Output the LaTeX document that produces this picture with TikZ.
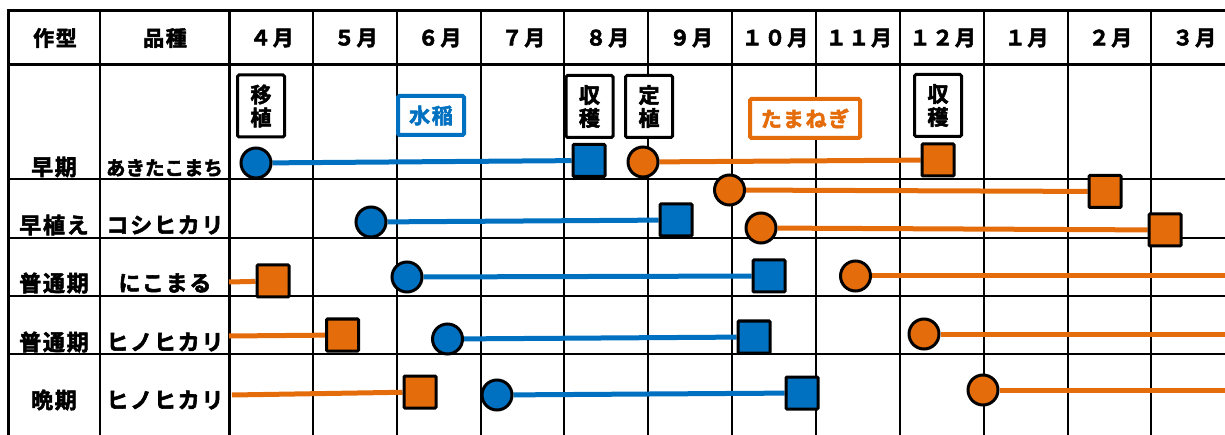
\documentclass[tikz,border=0pt]{standalone}
\usepackage{fontspec}
\newfontfamily\jp{Noto Sans CJK JP Bold}[LetterSpace=8,FakeBold=2.5]
\newfontfamily\jpn{Noto Sans CJK JP Bold}[FakeBold=2.5]
\definecolor{rblue}{HTML}{0070C0}
\definecolor{onion}{HTML}{E46C0A}
\pgfdeclarelayer{bg}
\pgfdeclarelayer{mid}
\pgfsetlayers{bg,mid,main}
\begin{document}
\begin{tikzpicture}[x=1pt,y=-1pt,
 lbl/.style={font=\jp\fontsize{22}{22}\selectfont, inner sep=0pt},
 hdr/.style={font=\jp\fontsize{21}{21}\selectfont, inner sep=0pt},
 circ/.style={circle, draw=black, line width=3pt, minimum size=30pt, inner sep=0pt},
 sq/.style={rectangle, draw=black, line width=3pt, minimum size=32pt, inner sep=0pt, rounded corners=1pt},
 bc/.style={circ, fill=rblue}, oc/.style={circ, fill=onion},
 bs/.style={sq, fill=rblue}, os/.style={sq, fill=onion},
 bline/.style={draw=rblue, line width=5pt},
 oline/.style={draw=onion, line width=5pt},
 tag/.style={draw=black, fill=white, line width=3pt, rounded corners=1.5pt, minimum width=47pt, minimum height=62pt, inner sep=0pt, align=center, font=\jp\fontsize{21}{23}\selectfont},
 ctag/.style={fill=white, line width=4pt, rounded corners=1.5pt, inner sep=0pt, minimum height=39pt, font=\jp\fontsize{21}{21}\selectfont},
 thick line/.style={line width=3pt},
 thin line/.style={line width=2pt}
]
\useasboundingbox (0,0) rectangle (1225,435);
% grid
\begin{pgfonlayer}{bg}
\foreach \i in {1,...,11} \draw[thin line] ({229+83.85*\i},11) -- ({229+83.85*\i},436);
\draw[thin line] (100,11) -- (100,436);
\foreach \y in {179,238,296,354} \draw[thin line] (8,\y) -- (1226,\y);
\draw[thick line] (6.5,11) -- (1226,11);
\draw[thick line] (8,65) -- (1226,65);
\draw[thick line] (8,11) -- (8,436);
\draw[thick line] (229,11) -- (229,436);
\end{pgfonlayer}
% header
\node[hdr] (h1) at (55,38) {作型};
\node[hdr] (h2) at (165,38) {品種};
\foreach \m [count=\i from 0] in {４月,５月,６月,７月,８月,９月,１０月,１１月,１２月,１月,２月,３月}
  \node[hdr] (m\i) at ({230+83.85*(\i+0.5)},38) {\m};
% row labels
\node[lbl] (r1a) at (54,167) {早期};
\node[lbl,font=\jpn\fontsize{19.5}{19.5}\selectfont] (r1b) at (164.5,168) {あきたこまち};
\node[lbl] (r2a) at (54,225) {早植え};
\node[lbl] (r2b) at (165,225) {コシヒカリ};
\node[lbl] (r3a) at (54,283) {普通期};
\node[lbl] (r3b) at (165,283) {にこまる};
\node[lbl] (r4a) at (54,342) {普通期};
\node[lbl] (r4b) at (165,342) {ヒノヒカリ};
\node[lbl] (r5a) at (54,400) {晩期};
\node[lbl] (r5b) at (165,400) {ヒノヒカリ};
% tags
\node[tag] (t1) at (261,106) {移\\植};
\node[tag] (t2) at (589.5,106.5) {収\\穫};
\node[tag] (t3) at (649,106.5) {定\\植};
\node[tag] (t4) at (938,105.5) {収\\穫};
\node[ctag, draw=rblue, text=rblue, minimum width=66pt] (rice) at (431,115.5) {水稲};
\node[ctag, draw=onion, text=onion, minimum width=110pt] (onionlbl) at (805,118.5) {たまねぎ};
% markers
\node[bc] (bc1) at (256,163) {};
\node[bs] (bs1) at (589,160.5) {};
\node[oc] (oc1) at (643,162) {};
\node[os] (os1) at (938,160) {};
\node[oc] (oc2) at (729.5,190) {};
\node[os] (os2) at (1105,191.5) {};
\node[bc] (bc2) at (371,222) {};
\node[bs] (bs2) at (676,220) {};
\node[oc] (oc3) at (761,228) {};
\node[os] (os3) at (1165,230) {};
\coordinate (l3) at (229,282);
\node[os] (os4) at (273,281) {};
\node[bc] (bc3) at (407,277) {};
\node[bs] (bs3) at (769,276) {};
\node[oc] (oc4) at (855.5,276) {};
\coordinate (e4) at (1226,276);
\coordinate (l4) at (229,336);
\node[os] (os5) at (342.5,335) {};
\node[bc] (bc4) at (447.5,339) {};
\node[bs] (bs4) at (754,337) {};
\node[oc] (oc5) at (924,334) {};
\coordinate (e5) at (1226,334);
\coordinate (l5) at (232,395);
\node[os] (os6) at (420,392) {};
\node[bc] (bc5) at (497,395) {};
\node[bs] (bs5) at (802,393) {};
\node[oc] (oc6) at (983,390) {};
\coordinate (e6) at (1226,390);
% connectors
\begin{pgfonlayer}{mid}
\draw[bline] (bc1) -- (bs1);
\draw[oline] (oc1) -- (os1);
\draw[oline] (oc2) -- (os2);
\draw[bline] (bc2) -- (bs2);
\draw[oline] (oc3) -- (os3);
\draw[oline] (l3) -- (os4);
\draw[bline] (bc3) -- (bs3);
\draw[oline] (oc4) -- (e4);
\draw[oline] (l4) -- (os5);
\draw[bline] (bc4) -- (bs4);
\draw[oline] (oc5) -- (e5);
\draw[oline] (l5) -- (os6);
\draw[bline] (bc5) -- (bs5);
\draw[oline] (oc6) -- (e6);
\end{pgfonlayer}
\end{tikzpicture}
\end{document}
